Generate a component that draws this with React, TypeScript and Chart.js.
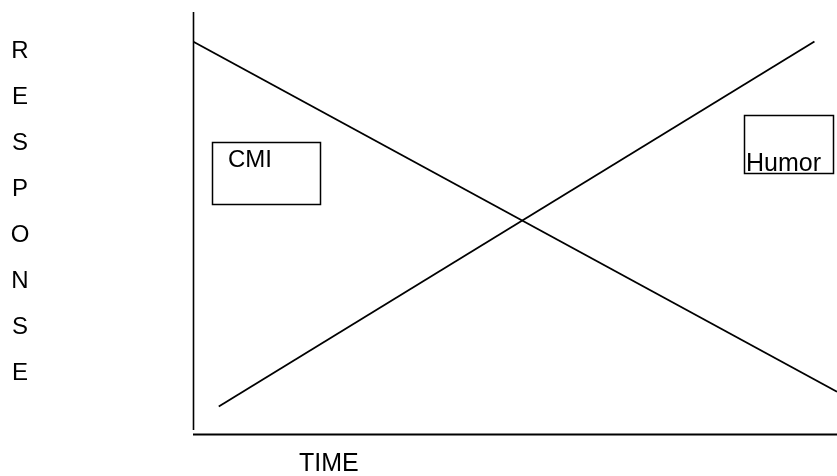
import React, { useEffect, useRef } from "react";
import { Chart, registerables } from "chart.js";

Chart.register(...registerables);

// Data (arbitrary units: time 0–10, response 0–10)
const seriesNames = ["CMI", "Humor"];
const cmiTime = [0, 10];
const cmiResponse = [9.3, 1.0];
const humorTime = [0.4, 9.65];
const humorResponse = [0.65, 9.3];
const xAxisTitle = "TIME";
const yAxisTitle = "RESPONSE";

const FONT = "'Liberation Sans', Arial, sans-serif";

const diagramPlugin = {
  id: "diagram",
  afterDatasetsDraw(chart: any) {
    const { ctx, chartArea } = chart;
    ctx.save();
    ctx.strokeStyle = "#000";
    // axes
    ctx.lineWidth = 1.6;
    ctx.beginPath();
    ctx.moveTo(chartArea.left + 0.5, chartArea.top);
    ctx.lineTo(chartArea.left + 0.5, chartArea.bottom - 4);
    ctx.stroke();
    ctx.lineWidth = 2;
    ctx.beginPath();
    ctx.moveTo(chartArea.left, chartArea.bottom + 0.5);
    ctx.lineTo(chartArea.right, chartArea.bottom + 0.5);
    ctx.stroke();

    // label boxes
    ctx.lineWidth = 1.5;
    ctx.fillStyle = "#000";
    ctx.textBaseline = "alphabetic";
    ctx.textAlign = "left";
    const boxes = [
      { text: seriesNames[0], x: 212.5, y: 142.5, w: 108, h: 62, tx: 228, ty: 167, size: 24 },
      { text: seriesNames[1], x: 744.5, y: 115.5, w: 89, h: 58, tx: 746, ty: 171, size: 25 },
    ];
    boxes.forEach((b) => {
      ctx.strokeRect(b.x, b.y, b.w, b.h);
      ctx.font = `${b.size}px ${FONT}`;
      ctx.fillText(b.text, b.tx, b.ty);
    });

    // x-axis title
    ctx.font = `25px ${FONT}`;
    ctx.fillText(xAxisTitle, 299, 471);

    // y-axis title, stacked letters
    ctx.font = `24px ${FONT}`;
    ctx.textAlign = "center";
    yAxisTitle.split("").forEach((ch, i) => {
      ctx.fillText(ch, 20, 58 + i * 46);
    });
    ctx.restore();
  },
};

export default function App() {
  const ref = useRef<HTMLCanvasElement>(null);
  useEffect(() => {
    if (!ref.current) return;
    const chart = new Chart(ref.current, {
      type: "line",
      data: {
        datasets: [
          {
            label: seriesNames[0],
            data: cmiTime.map((t, i) => ({ x: t, y: cmiResponse[i] })),
            borderColor: "#000",
            borderWidth: 1.8,
            pointRadius: 0,
            tension: 0,
            fill: false,
          },
          {
            label: seriesNames[1],
            data: humorTime.map((t, i) => ({ x: t, y: humorResponse[i] })),
            borderColor: "#000",
            borderWidth: 1.8,
            pointRadius: 0,
            tension: 0,
            fill: false,
          },
        ],
      },
      options: {
        responsive: false,
        animation: false,
        layout: { padding: { left: 193, top: 12, right: 0, bottom: 42 } },
        plugins: { legend: { display: false }, tooltip: { enabled: false } },
        scales: {
          x: { type: "linear", min: 0, max: 10, display: false },
          y: { type: "linear", min: 0, max: 10, display: false },
        },
      },
      plugins: [diagramPlugin],
    });
    return () => chart.destroy();
  }, []);
  return (
    <div style={{ position: "absolute", left: 0, top: 0, width: 837, height: 476, background: "#fff" }}>
      <canvas ref={ref} width={837} height={476} style={{ display: "block", width: 837, height: 476 }} />
    </div>
  );
}
